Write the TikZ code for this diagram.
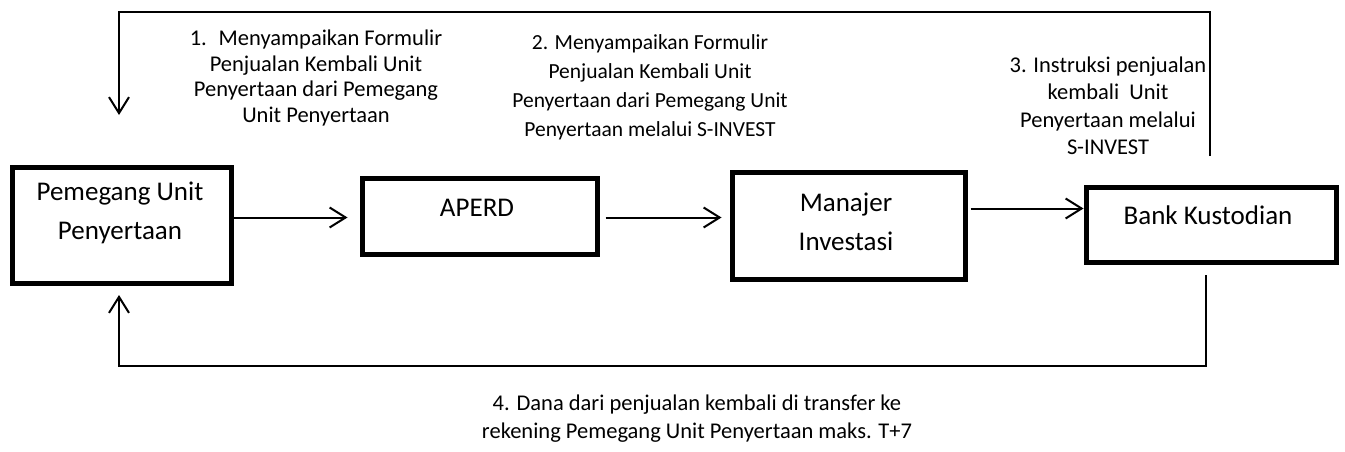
\documentclass[tikz,border=0pt]{standalone}
\usepackage{fontspec}
\setmainfont{Carlito}
\usetikzlibrary{arrows.meta}
\begin{document}
\begin{tikzpicture}[x=1pt,y=-1pt,
  boxnode/.style={draw=black, line width=5pt, inner sep=0pt, anchor=north west},
  boxtext/.style={font=\fontsize{27}{39}\selectfont, align=center, inner sep=0pt},
  steplabel/.style={font=\fontsize{22.5}{25.5}\selectfont, align=center, inner sep=0pt},
  conn/.style={line width=2pt, -{Straight Barb[length=16pt,width=20pt,line width=2pt]}},
  plain/.style={line width=2pt}]
\useasboundingbox (0,0) rectangle (1345,452);
% boxes (border centre lines)
\node[boxnode, minimum width=219pt, minimum height=116pt] (holder) at (9.5,164.5) {};
\node[boxnode, minimum width=235pt, minimum height=76pt] (aperd) at (359.5,175.5) {};
\node[boxnode, minimum width=233pt, minimum height=107pt] (mi) at (729.5,169.5) {};
\node[boxnode, minimum width=250pt, minimum height=75pt] (bank) at (1083.5,184.5) {};
% box texts
\node[boxtext] (holdertxt) at (120,213) {Pemegang Unit\\Penyertaan};
\node[boxtext, anchor=base] (aperdtxt) at (477,216) {APERD};
\node[boxtext] (mitxt) at (846,221.5) {Manajer\\Investasi};
\node[boxtext, anchor=base] (banktxt) at (1208,224) {Bank Kustodian};
% forward arrows
\draw[conn] ([yshift=7.5pt]holder.east) -- ([xshift=-12pt,yshift=7.5pt]holder.east -| aperd.west);
\draw[conn] ([xshift=6pt,yshift=-1.5pt]aperd.east) -- ([xshift=-8pt,yshift=-1.5pt]aperd.east -| mi.west);
\draw[conn] ([xshift=3pt,yshift=17pt]mi.east) -- ([yshift=17pt]mi.east -| bank.west);
% top loop
\coordinate (tr) at (1210,156);
\coordinate (trc) at (1210,12);
\coordinate (tlc) at (119,12);
\coordinate (tltip) at (119,115);
\draw[conn] (tr) -- (trc) -- (tlc) -- (tltip);
% bottom loop
\coordinate (br) at (1206,275);
\coordinate (brc) at (1206,366);
\coordinate (blc) at (119,366);
\coordinate (bltip) at (119,295);
\draw[conn] (br) -- (brc) -- (blc) -- (bltip);
% step labels
\node[steplabel] (s1) at (316,78) {1.~ Menyampaikan Formulir\\Penjualan Kembali Unit\\Penyertaan dari Pemegang\\Unit Penyertaan};
\node[steplabel, font=\fontsize{21.5}{29}\selectfont] (s2) at (650,87) {2. Menyampaikan Formulir\\Penjualan Kembali Unit\\Penyertaan dari Pemegang Unit\\Penyertaan melalui S-INVEST};
\node[steplabel, font=\fontsize{22.5}{27.5}\selectfont] (s3) at (1108,106) {3. Instruksi penjualan\\kembali~ Unit\\Penyertaan melalui\\S-INVEST};
\node[steplabel, font=\fontsize{22.5}{28}\selectfont] (s4) at (697,419) {4. Dana dari penjualan kembali di transfer ke\\rekening Pemegang Unit Penyertaan maks. T+7};
\end{tikzpicture}
\end{document}
